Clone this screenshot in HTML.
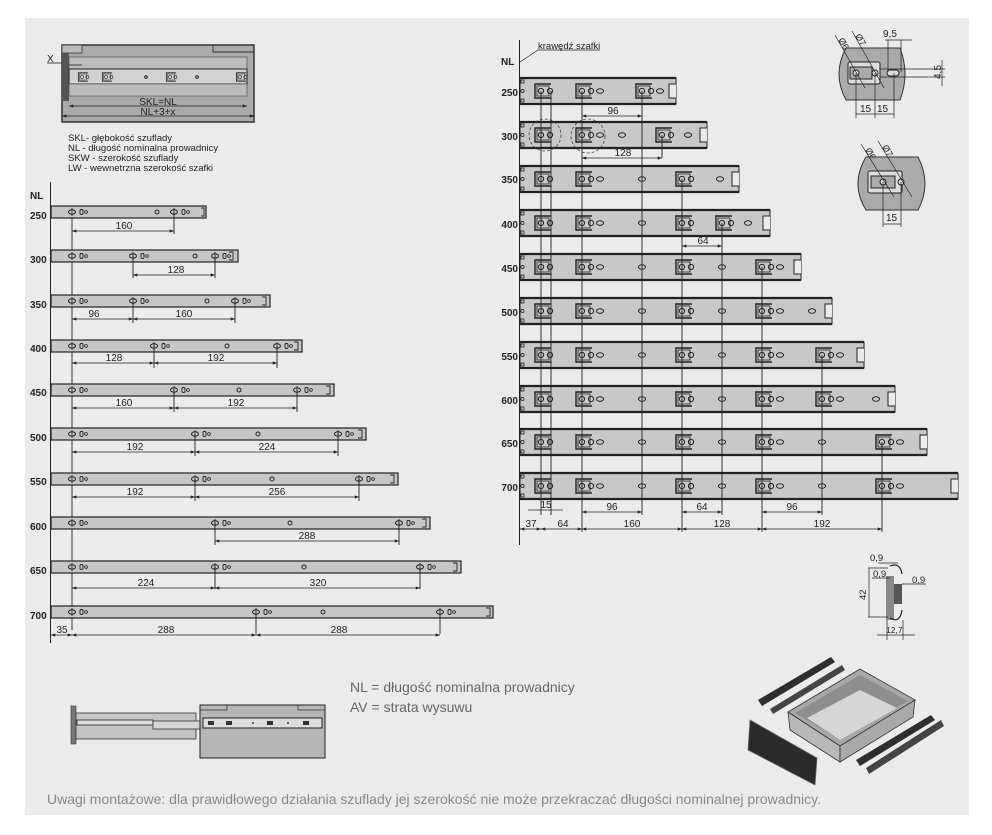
<!DOCTYPE html>
<html><head><meta charset="utf-8"><style>
html,body{margin:0;padding:0;background:#fff;}
svg{display:block;}
text{font-family:"Liberation Sans",sans-serif;fill:#222;}
</style></head><body>
<svg width="992" height="835" viewBox="0 0 992 835" xmlns="http://www.w3.org/2000/svg">
<defs>
<g id="lh"><ellipse cx="0" cy="0" rx="3.5" ry="2.2" fill="none" stroke="#222" stroke-width="1"/><line x1="0" y1="-4" x2="0" y2="4" stroke="#222" stroke-width="0.8"/><rect x="8" y="-2.5" width="3" height="5" rx="1.2" fill="none" stroke="#222" stroke-width="0.9"/><circle cx="14" cy="0" r="1.4" fill="none" stroke="#222" stroke-width="0.8"/></g>
<g id="lo"><circle cx="0" cy="0" r="2" fill="none" stroke="#222" stroke-width="1"/></g>
<g id="rb"><path d="M10,-7 H-6 V7 H10" fill="none" stroke="#222" stroke-width="1.4"/><rect x="-4" y="-5" width="12" height="10" fill="none" stroke="#222" stroke-width="0.8"/><circle cx="0" cy="0" r="2.6" fill="none" stroke="#222" stroke-width="1"/><circle cx="9" cy="0" r="2.6" fill="none" stroke="#222" stroke-width="1"/></g>
<g id="ro"><ellipse cx="0" cy="0" rx="3.5" ry="2.3" fill="none" stroke="#222" stroke-width="1"/></g>
<g id="rs"><rect x="1" y="-11" width="3" height="3" fill="none" stroke="#222" stroke-width="0.8"/><circle cx="2.5" cy="0" r="1.6" fill="none" stroke="#222" stroke-width="0.8"/><rect x="1" y="8" width="3" height="3" fill="none" stroke="#222" stroke-width="0.8"/></g>
<marker id="ar" viewBox="0 0 8 6" refX="8" refY="3" markerWidth="6" markerHeight="4" orient="auto-start-reverse"><path d="M0,0 L8,3 L0,6z" fill="#222"/></marker>
</defs>
<rect x="25" y="18" width="944" height="797" fill="#ebebeb"/>

<!-- top-left diagram -->
<rect x="62" y="45" width="192" height="77" fill="#aaa" stroke="#333" stroke-width="1.5"/>
<rect x="62" y="45" width="20" height="8" fill="#bbb" stroke="#333" stroke-width="0.8"/>
<path d="M213,45 V52 H254" fill="none" stroke="#333" stroke-width="1"/>
<rect x="62" y="53" width="7" height="48" fill="#555"/>
<rect x="69" y="57" width="178" height="12" fill="#bcbcbc" stroke="#444" stroke-width="0.6"/>
<rect x="69" y="69" width="178" height="15" fill="#d2d2d2" stroke="#222" stroke-width="1"/>
<rect x="69" y="84" width="178" height="12" fill="#bcbcbc" stroke="#444" stroke-width="0.6"/>
<g transform="translate(82,77) scale(0.6)"><use href="#rb"/></g>
<g transform="translate(106,77) scale(0.6)"><use href="#rb"/></g>
<g transform="translate(170,77) scale(0.6)"><use href="#rb"/></g>
<g transform="translate(240,77) scale(0.6)"><use href="#rb"/></g>
<circle cx="146" cy="77" r="1.3" fill="none" stroke="#222"/><circle cx="197" cy="77" r="1.3" fill="none" stroke="#222"/>
<line x1="69" y1="106" x2="247" y2="106" stroke="#222" stroke-width="0.8" marker-start="url(#ar)" marker-end="url(#ar)"/>
<line x1="62" y1="116" x2="254" y2="116" stroke="#222" stroke-width="0.8" marker-start="url(#ar)" marker-end="url(#ar)"/>
<text x="158" y="105" font-size="10" text-anchor="middle">SKL=NL</text>
<text x="158" y="115" font-size="10" text-anchor="middle">NL+3+x</text>
<line x1="47" y1="63" x2="62" y2="63" stroke="#222" stroke-width="0.8"/><line x1="69" y1="65" x2="82" y2="65" stroke="#222" stroke-width="0.8"/>
<text x="47" y="62" font-size="10">X</text>
<g font-size="9.5"><text x="68" y="141">SKL- głębokość szuflady</text><text x="68" y="151">NL - długość nominalna prowadnicy</text><text x="68" y="161">SKW - szerokość szuflady</text><text x="68" y="171">LW - wewnetrzna szerokość szafki</text></g>

<!-- left rails -->
<line x1="50.5" y1="182" x2="50.5" y2="643" stroke="#222" stroke-width="1"/>
<line x1="72" y1="206" x2="72" y2="630" stroke="#222" stroke-width="0.9"/>
<text x="30" y="199" font-size="10" font-weight="bold">NL</text>
<g font-size="10" font-weight="bold">
<text x="30" y="219">250</text><text x="30" y="263">300</text><text x="30" y="308">350</text><text x="30" y="352">400</text><text x="30" y="396">450</text><text x="30" y="441">500</text><text x="30" y="485">550</text><text x="30" y="530">600</text><text x="30" y="574">650</text><text x="30" y="619">700</text>
</g>
<g fill="#c6c6c6" stroke="#222" stroke-width="1.2">
<rect x="51" y="206" width="155" height="12"/><rect x="51" y="250" width="187" height="12"/><rect x="51" y="295" width="219" height="12"/><rect x="51" y="340" width="251" height="12"/><rect x="51" y="384" width="283" height="12"/><rect x="51" y="428" width="315" height="12"/><rect x="51" y="473" width="347" height="12"/><rect x="51" y="517" width="379" height="12"/><rect x="51" y="561" width="410" height="12"/><rect x="51" y="606" width="442" height="12"/>
</g>
<g>
<use href="#lh" x="72" y="212"/><use href="#lo" x="157" y="212"/><use href="#lh" x="174" y="212"/>
<use href="#lh" x="72" y="256"/><use href="#lh" x="133" y="256"/><use href="#lo" x="195" y="256"/><use href="#lh" x="215" y="256"/>
<use href="#lh" x="72" y="301"/><use href="#lh" x="133" y="301"/><use href="#lo" x="207" y="301"/><use href="#lh" x="235" y="301"/>
<use href="#lh" x="72" y="346"/><use href="#lh" x="154" y="346"/><use href="#lo" x="227" y="346"/><use href="#lh" x="277" y="346"/>
<use href="#lh" x="72" y="390"/><use href="#lh" x="174" y="390"/><use href="#lo" x="239" y="390"/><use href="#lh" x="297" y="390"/>
<use href="#lh" x="72" y="434"/><use href="#lh" x="195" y="434"/><use href="#lo" x="258" y="434"/><use href="#lh" x="338" y="434"/>
<use href="#lh" x="72" y="479"/><use href="#lh" x="195" y="479"/><use href="#lo" x="272" y="479"/><use href="#lh" x="359" y="479"/>
<use href="#lh" x="72" y="523"/><use href="#lh" x="215" y="523"/><use href="#lo" x="290" y="523"/><use href="#lh" x="399" y="523"/>
<use href="#lh" x="72" y="567"/><use href="#lh" x="215" y="567"/><use href="#lo" x="304" y="567"/><use href="#lh" x="420" y="567"/>
<use href="#lh" x="72" y="612"/><use href="#lh" x="256" y="612"/><use href="#lo" x="323" y="612"/><use href="#lh" x="440" y="612"/>
</g>
<g stroke="#222" stroke-width="0.9" fill="none">
<path d="M201,208 h3 v8 h-3 M229,252 h4 v8 h-4 M262,297 h4 v8 h-4 M294,342 h4 v8 h-4 M326,386 h4 v8 h-4 M358,430 h4 v8 h-4 M390,475 h4 v8 h-4 M422,519 h4 v8 h-4 M453,563 h4 v8 h-4 M486,608 h4 v8 h-4"/>
<path d="M174,212 v22 M133,256 v22 M215,256 v22 M133,301 v22 M235,301 v22 M154,346 v22 M277,346 v22 M174,390 v22 M297,390 v22 M195,434 v22 M338,434 v22 M195,479 v22 M359,479 v22 M215,523 v22 M399,523 v22 M215,567 v22 M420,567 v22 M256,612 v22 M440,612 v22"/>
</g>
<g stroke="#222" stroke-width="0.8" marker-start="url(#ar)" marker-end="url(#ar)">
<line x1="72" y1="231" x2="174" y2="231"/>
<line x1="133" y1="275" x2="215" y2="275"/>
<line x1="72" y1="319" x2="133" y2="319"/><line x1="133" y1="319" x2="235" y2="319"/>
<line x1="72" y1="363" x2="154" y2="363"/><line x1="154" y1="363" x2="277" y2="363"/>
<line x1="72" y1="408" x2="174" y2="408"/><line x1="174" y1="408" x2="297" y2="408"/>
<line x1="72" y1="452" x2="195" y2="452"/><line x1="195" y1="452" x2="338" y2="452"/>
<line x1="72" y1="497" x2="195" y2="497"/><line x1="195" y1="497" x2="359" y2="497"/>
<line x1="215" y1="541" x2="399" y2="541"/>
<line x1="72" y1="588" x2="215" y2="588"/><line x1="215" y1="588" x2="420" y2="588"/>
<line x1="51" y1="635" x2="72" y2="635"/><line x1="72" y1="635" x2="256" y2="635"/><line x1="256" y1="635" x2="440" y2="635"/>
</g>
<g font-size="10" text-anchor="middle">
<text x="124" y="229">160</text><text x="176" y="273">128</text><text x="94" y="317">96</text><text x="184" y="317">160</text>
<text x="114" y="361">128</text><text x="216" y="361">192</text><text x="124" y="406">160</text><text x="236" y="406">192</text>
<text x="135" y="450">192</text><text x="267" y="450">224</text><text x="135" y="495">192</text><text x="277" y="495">256</text>
<text x="307" y="539">288</text><text x="146" y="586">224</text><text x="318" y="586">320</text>
<text x="62" y="633">35</text><text x="166" y="633">288</text><text x="339" y="633">288</text>
</g>

<!-- right rails -->
<line x1="519.5" y1="40" x2="519.5" y2="545" stroke="#222" stroke-width="1"/>
<path d="M520,62 L538,50 H600" fill="none" stroke="#222" stroke-width="0.7"/>
<text x="538" y="49" font-size="9.5">krawędź szafki</text>
<text x="501" y="65" font-size="10" font-weight="bold">NL</text>
<g font-size="10" font-weight="bold" text-anchor="end">
<text x="518" y="96">250</text><text x="518" y="140">300</text><text x="518" y="183">350</text><text x="518" y="228">400</text><text x="518" y="272">450</text><text x="518" y="316">500</text><text x="518" y="360">550</text><text x="518" y="404">600</text><text x="518" y="447">650</text><text x="518" y="491">700</text>
</g>
<g fill="#c8c8c8" stroke="#222" stroke-width="1">
<rect x="520" y="78" width="156" height="26"/><rect x="520" y="122" width="187" height="26"/><rect x="520" y="166" width="219" height="26"/><rect x="520" y="210" width="250" height="26"/><rect x="520" y="254" width="281" height="26"/><rect x="520" y="298" width="312" height="26"/><rect x="520" y="342" width="344" height="26"/><rect x="520" y="386" width="375" height="26"/><rect x="520" y="429" width="407" height="26"/><rect x="520" y="473" width="438" height="26"/>
</g>
<g stroke="#222" stroke-width="2.2">
<line x1="520" y1="78" x2="676" y2="78"/><line x1="520" y1="122" x2="707" y2="122"/><line x1="520" y1="166" x2="739" y2="166"/><line x1="520" y1="210" x2="770" y2="210"/><line x1="520" y1="254" x2="801" y2="254"/><line x1="520" y1="298" x2="832" y2="298"/><line x1="520" y1="342" x2="864" y2="342"/><line x1="520" y1="386" x2="895" y2="386"/><line x1="520" y1="429" x2="927" y2="429"/><line x1="520" y1="473" x2="958" y2="473"/>
<line x1="520" y1="104" x2="676" y2="104"/><line x1="520" y1="148" x2="707" y2="148"/><line x1="520" y1="192" x2="739" y2="192"/><line x1="520" y1="236" x2="770" y2="236"/><line x1="520" y1="280" x2="801" y2="280"/><line x1="520" y1="324" x2="832" y2="324"/><line x1="520" y1="368" x2="864" y2="368"/><line x1="520" y1="412" x2="895" y2="412"/><line x1="520" y1="455" x2="927" y2="455"/><line x1="520" y1="499" x2="958" y2="499"/>
</g>
<g fill="#ebebeb" stroke="#222" stroke-width="1">
<path d="M676,84 h-7 v14 h7"/><path d="M707,128 h-7 v14 h7"/><path d="M739,172 h-7 v14 h7"/><path d="M770,216 h-7 v14 h7"/><path d="M801,260 h-7 v14 h7"/><path d="M832,304 h-7 v14 h7"/><path d="M864,348 h-7 v14 h7"/><path d="M895,392 h-7 v14 h7"/><path d="M927,435 h-7 v14 h7"/><path d="M958,479 h-7 v14 h7"/>
</g>
<g>
<use href="#rs" x="520" y="91"/><use href="#rs" x="520" y="135"/><use href="#rs" x="520" y="179"/><use href="#rs" x="520" y="223"/><use href="#rs" x="520" y="267"/><use href="#rs" x="520" y="311"/><use href="#rs" x="520" y="355"/><use href="#rs" x="520" y="399"/><use href="#rs" x="520" y="442"/><use href="#rs" x="520" y="486"/>
<use href="#rb" x="541" y="91"/><use href="#rb" x="582" y="91"/><use href="#ro" x="600" y="91"/><use href="#rb" x="642" y="91"/><use href="#ro" x="660" y="91"/>
<use href="#rb" x="541" y="135"/><use href="#rb" x="582" y="135"/><use href="#ro" x="600" y="135"/><use href="#ro" x="622" y="135"/><use href="#rb" x="662" y="135"/><use href="#ro" x="688" y="135"/>
<use href="#rb" x="541" y="179"/><use href="#rb" x="582" y="179"/><use href="#ro" x="600" y="179"/><use href="#ro" x="642" y="179"/><use href="#rb" x="682" y="179"/><use href="#ro" x="720" y="179"/>
<use href="#rb" x="541" y="223"/><use href="#rb" x="582" y="223"/><use href="#ro" x="600" y="223"/><use href="#ro" x="642" y="223"/><use href="#rb" x="682" y="223"/><use href="#rb" x="722" y="223"/><use href="#ro" x="748" y="223"/>
<use href="#rb" x="541" y="267"/><use href="#rb" x="582" y="267"/><use href="#ro" x="600" y="267"/><use href="#ro" x="642" y="267"/><use href="#rb" x="682" y="267"/><use href="#ro" x="722" y="267"/><use href="#rb" x="762" y="267"/><use href="#ro" x="780" y="267"/>
<use href="#rb" x="541" y="311"/><use href="#rb" x="582" y="311"/><use href="#ro" x="600" y="311"/><use href="#ro" x="642" y="311"/><use href="#rb" x="682" y="311"/><use href="#ro" x="722" y="311"/><use href="#rb" x="762" y="311"/><use href="#ro" x="780" y="311"/><use href="#ro" x="812" y="311"/>
<use href="#rb" x="541" y="355"/><use href="#rb" x="582" y="355"/><use href="#ro" x="600" y="355"/><use href="#ro" x="642" y="355"/><use href="#rb" x="682" y="355"/><use href="#ro" x="722" y="355"/><use href="#rb" x="762" y="355"/><use href="#ro" x="780" y="355"/><use href="#rb" x="822" y="355"/><use href="#ro" x="840" y="355"/>
<use href="#rb" x="541" y="399"/><use href="#rb" x="582" y="399"/><use href="#ro" x="600" y="399"/><use href="#ro" x="642" y="399"/><use href="#rb" x="682" y="399"/><use href="#ro" x="722" y="399"/><use href="#rb" x="762" y="399"/><use href="#ro" x="780" y="399"/><use href="#rb" x="822" y="399"/><use href="#ro" x="840" y="399"/><use href="#ro" x="876" y="399"/>
<use href="#rb" x="541" y="442"/><use href="#rb" x="582" y="442"/><use href="#ro" x="600" y="442"/><use href="#ro" x="642" y="442"/><use href="#rb" x="682" y="442"/><use href="#ro" x="722" y="442"/><use href="#rb" x="762" y="442"/><use href="#ro" x="780" y="442"/><use href="#ro" x="822" y="442"/><use href="#rb" x="882" y="442"/><use href="#ro" x="900" y="442"/>
<use href="#rb" x="541" y="486"/><use href="#rb" x="582" y="486"/><use href="#ro" x="600" y="486"/><use href="#ro" x="642" y="486"/><use href="#rb" x="682" y="486"/><use href="#ro" x="722" y="486"/><use href="#rb" x="762" y="486"/><use href="#ro" x="780" y="486"/><use href="#ro" x="822" y="486"/><use href="#rb" x="882" y="486"/><use href="#ro" x="900" y="486"/>
</g>
<circle cx="545" cy="135" r="16" fill="none" stroke="#444" stroke-width="0.8" stroke-dasharray="3,2"/>
<circle cx="588" cy="136" r="17" fill="none" stroke="#444" stroke-width="0.8" stroke-dasharray="3,2"/>
<g stroke="#222" stroke-width="0.9">
<line x1="541" y1="91" x2="541" y2="515"/><line x1="551" y1="91" x2="551" y2="515"/><line x1="582" y1="91" x2="582" y2="532"/><line x1="642" y1="91" x2="642" y2="515"/><line x1="662" y1="135" x2="662" y2="158"/>
<line x1="682" y1="179" x2="682" y2="532"/><line x1="722" y1="223" x2="722" y2="515"/><line x1="762" y1="267" x2="762" y2="532"/><line x1="822" y1="355" x2="822" y2="515"/><line x1="882" y1="442" x2="882" y2="532"/>
</g>
<g stroke="#222" stroke-width="0.8" marker-start="url(#ar)" marker-end="url(#ar)">
<line x1="582" y1="116" x2="642" y2="116"/><line x1="582" y1="158" x2="662" y2="158"/><line x1="682" y1="246" x2="722" y2="246"/>
<line x1="582" y1="512" x2="642" y2="512"/><line x1="682" y1="512" x2="722" y2="512"/><line x1="762" y1="512" x2="822" y2="512"/>
<line x1="520" y1="529" x2="541" y2="529"/><line x1="541" y1="529" x2="582" y2="529"/><line x1="582" y1="529" x2="682" y2="529"/><line x1="682" y1="529" x2="762" y2="529"/><line x1="762" y1="529" x2="882" y2="529"/>
</g>
<line x1="528" y1="510" x2="563" y2="510" stroke="#222" stroke-width="0.8"/>
<g font-size="10" text-anchor="middle">
<text x="613" y="114">96</text><text x="623" y="156">128</text><text x="703" y="244">64</text>
<text x="546" y="508">15</text><text x="612" y="510">96</text><text x="702" y="510">64</text><text x="792" y="510">96</text>
<text x="531" y="527">37</text><text x="563" y="527">64</text><text x="632" y="527">160</text><text x="722" y="527">128</text><text x="822" y="527">192</text>
</g>

<!-- plates -->
<path d="M846,48 H900 Q910,74 900,100 H846 Q832,74 846,48z" fill="#aaa" stroke="#333" stroke-width="1"/>
<rect x="848" y="62" width="32" height="22" rx="2" fill="#ddd" stroke="#222"/>
<rect x="850" y="67" width="22" height="12" fill="#aaa" stroke="#222"/>
<circle cx="856" cy="73" r="3" fill="#ddd" stroke="#222"/><circle cx="875" cy="73" r="3" fill="#ddd" stroke="#222"/>
<rect x="887" y="70" width="12" height="6" rx="3" fill="#ddd" stroke="#222"/>
<g stroke="#222" stroke-width="0.7" fill="none">
<line x1="835" y1="35" x2="865" y2="88"/><line x1="852" y1="31" x2="884" y2="88"/>
<line x1="856" y1="73" x2="856" y2="118"/><line x1="875" y1="73" x2="875" y2="118"/><line x1="894" y1="73" x2="894" y2="118"/>
<line x1="856" y1="114" x2="894" y2="114"/><line x1="885" y1="40" x2="912" y2="40"/>
<line x1="888" y1="40" x2="888" y2="72"/><line x1="901" y1="40" x2="901" y2="72"/>
<line x1="880" y1="69" x2="945" y2="69"/><line x1="880" y1="77" x2="945" y2="77"/><line x1="942" y1="60" x2="942" y2="86"/>
</g>
<g font-size="10"><text x="883" y="37">9,5</text><text x="860" y="112">15</text><text x="877" y="112">15</text>
<text transform="translate(941,79) rotate(-90)">4,5</text>
<text transform="translate(838,40) rotate(60)" font-size="9">Ø6</text><text transform="translate(855,36) rotate(60)" font-size="9">Ø7</text>
<text transform="translate(865,150) rotate(60)" font-size="9">Ø6</text><text transform="translate(882,147) rotate(60)" font-size="9">Ø7</text>
<text x="886" y="221">15</text></g>
<path d="M866,157 H918 Q932,184 918,210 H866 Q850,184 866,157z" fill="#aaa" stroke="#333" stroke-width="1"/>
<rect x="868" y="171" width="34" height="22" rx="2" fill="#ddd" stroke="#222"/>
<rect x="871" y="176" width="24" height="12" fill="#aaa" stroke="#222"/>
<circle cx="883" cy="182" r="3" fill="#ddd" stroke="#222"/><circle cx="901" cy="182" r="3" fill="#ddd" stroke="#222"/>
<g stroke="#222" stroke-width="0.7"><line x1="861" y1="144" x2="894" y2="197"/><line x1="878" y1="141" x2="912" y2="197"/><line x1="883" y1="182" x2="883" y2="227"/><line x1="901" y1="182" x2="901" y2="227"/><line x1="883" y1="224" x2="901" y2="224"/></g>

<!-- profile -->
<rect x="886" y="576" width="8" height="44" fill="#888"/>
<rect x="894" y="584" width="8" height="20" fill="#555"/>
<path d="M890,566 q10,-4 12,8 M890,618 q10,6 12,-8" fill="none" stroke="#222" stroke-width="1.2"/>
<g stroke="#222" stroke-width="0.7"><line x1="868" y1="568" x2="888" y2="568"/><line x1="868" y1="617" x2="888" y2="617"/><line x1="869" y1="568" x2="869" y2="617"/>
<line x1="872" y1="578" x2="890" y2="578"/><line x1="902" y1="584" x2="926" y2="584"/><line x1="878" y1="563" x2="898" y2="563"/><line x1="877" y1="635" x2="915" y2="635"/><line x1="887" y1="620" x2="887" y2="640"/><line x1="903" y1="620" x2="903" y2="640"/></g>
<g font-size="9.5"><text x="870" y="561">0,9</text><text x="873" y="577">0,9</text><text x="912" y="583">0,9</text><text transform="translate(866,600) rotate(-90)">42</text><text x="886" y="633" font-size="8.5">12,7</text></g>

<!-- 3D drawer -->
<polygon points="788,712 860,669 915,700 840,746" fill="#a8a8a8" stroke="#333" stroke-width="0.8"/>
<polygon points="795,713 860,675 908,701 840,740" fill="#8e8e8e"/>
<polygon points="807,718 860,690 897,708 840,740" fill="#d6d6d6"/>
<polygon points="788,712 840,746 840,762 790,730" fill="#b8b8b8" stroke="#333" stroke-width="0.8"/>
<polygon points="840,746 915,700 913,717 840,762" fill="#a9a9a9" stroke="#333" stroke-width="0.8"/>
<polygon points="750,720 817,758 815,785 748,750" fill="#2b2b2b" stroke="#666" stroke-width="0.8"/>
<polygon points="758,700 831,657 835,662 762,706" fill="#2e2e2e"/>
<polygon points="770,709 842,665 845,670 773,714" fill="#444"/>
<polygon points="856,760 931,715 935,720 860,766" fill="#2e2e2e"/>
<polygon points="866,768 941,720 944,726 869,774" fill="#444"/>

<!-- bottom slide diagram -->
<rect x="71" y="706" width="5" height="38" fill="#777" stroke="#333" stroke-width="0.6"/>
<rect x="76" y="713" width="120" height="26" fill="#c4c4c4" stroke="#333" stroke-width="0.8"/>
<rect x="77" y="720" width="76" height="5" fill="#ddd" stroke="#222" stroke-width="0.8"/>
<rect x="153" y="721" width="50" height="8" fill="#d6d6d6" stroke="#333" stroke-width="0.8"/>
<rect x="200" y="705" width="125" height="53" fill="#b6b6b6" stroke="#222" stroke-width="1"/>
<path d="M200,710 H227 V705 M325,710 H298 V705" fill="none" stroke="#333" stroke-width="0.8"/>
<rect x="203" y="718" width="119" height="10" fill="#ddd" stroke="#222" stroke-width="1"/>
<g fill="#333"><rect x="208" y="721" width="6" height="4"/><rect x="226" y="721" width="6" height="4"/><rect x="267" y="721" width="6" height="4"/><rect x="303" y="721" width="6" height="4"/><circle cx="253" cy="723" r="1"/><circle cx="288" cy="723" r="1"/></g>

<g font-size="14">
<text x="350" y="692" style="fill:#666">NL = długość nominalna prowadnicy</text>
<text x="350" y="712" style="fill:#666">AV = strata wysuwu</text>
</g>
<text x="47" y="804" font-size="14" style="fill:#888">Uwagi montażowe: dla prawidłowego działania szuflady jej szerokość nie może przekraczać długości nominalnej prowadnicy.</text>
</svg>
</body></html>
